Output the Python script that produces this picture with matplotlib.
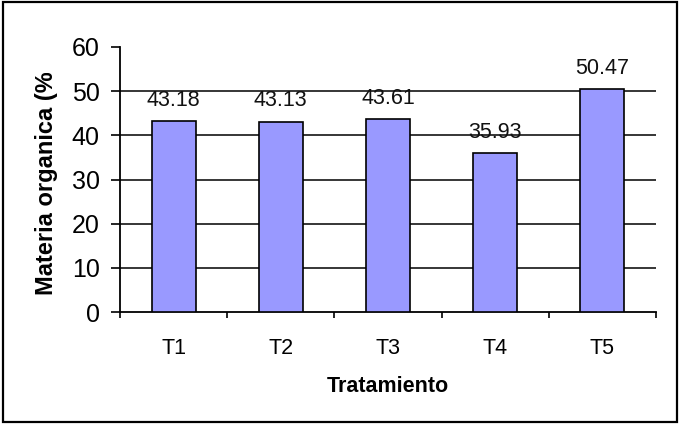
import matplotlib.pyplot as plt
from matplotlib.patches import Rectangle
from matplotlib.transforms import Bbox, TransformedBbox

plt.rcParams['font.family'] = ['Liberation Sans', 'DejaVu Sans']

tratamientos = ['T1', 'T2', 'T3', 'T4', 'T5']
materiaOrganica = [43.18, 43.13, 43.61, 35.93, 50.47]
yTicks = [0, 10, 20, 30, 40, 50, 60]

fig = plt.figure(figsize=(6.8, 4.24), dpi=100)
ax = fig.add_axes([120/680, 1-312/424, 536/680, 265/424])

# outer frame of the chart area
fig.patches.append(Rectangle((3/680, 2/424), 674/680, 420/424, transform=fig.transFigure,
                             fill=False, edgecolor='black', linewidth=1.6))

pos = list(range(len(tratamientos)))
ax.bar(pos, materiaOrganica, width=0.41, color='#9999FF', edgecolor='black', linewidth=1.2, zorder=3)

for x, v in zip(pos, materiaOrganica):
    ax.annotate('%.2f' % v, (x, v), xytext=(0, 15), textcoords='offset points',
                ha='center', va='center', fontsize=15.5, color='#111111')

ax.set_xlim(-0.5, len(tratamientos) - 0.5)
ax.set_ylim(0, 60)

# horizontal gridlines, the top one is left out
for y in yTicks[1:-1]:
    ax.axhline(y, color='black', linewidth=1.1, zorder=1)

ax.set_yticks(yTicks)
ax.tick_params(axis='y', direction='out', length=6.5, width=1.2, pad=8, labelsize=18)

ax.set_xticks([p - 0.5 for p in pos] + [pos[-1] + 0.5])
ax.set_xticklabels([])
ax.tick_params(axis='x', which='major', direction='out', length=4.3, width=1.2)
ax.set_xticks(pos, minor=True)
ax.set_xticklabels(tratamientos, minor=True)
ax.tick_params(axis='x', which='minor', length=0, pad=19, labelsize=15.5)

for side in ['top', 'right']:
    ax.spines[side].set_visible(False)
for side in ['left', 'bottom']:
    ax.spines[side].set_linewidth(1.3)

ax.set_xlabel('Tratamiento', fontsize=15.5, fontweight='bold', labelpad=12)
lbl = ax.set_ylabel('Materia organica (%)', fontsize=17, fontweight='bold')
ax.yaxis.set_label_coords(-0.115, 0.5)
lbl.set_clip_box(TransformedBbox(Bbox([[0, 0], [1, 1 - 73/424]]), fig.transFigure))
lbl.set_clip_on(True)

fig.savefig('out.png', dpi=100)
